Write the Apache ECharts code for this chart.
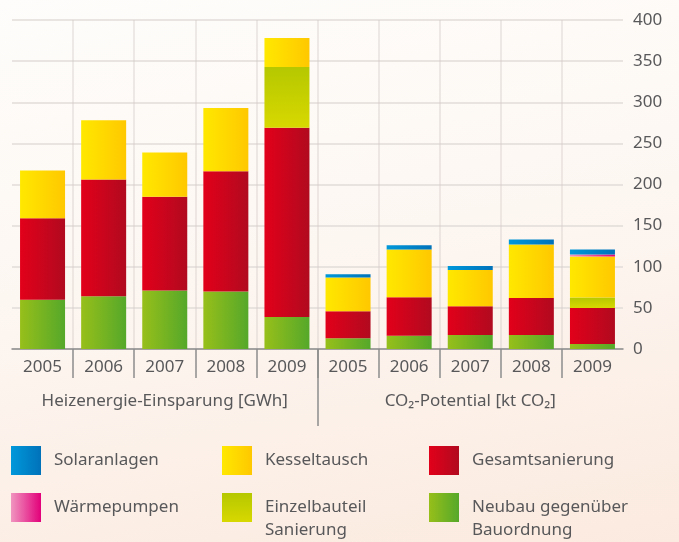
<!DOCTYPE html>
<html><head><meta charset="utf-8">
<script src="https://cdn.jsdelivr.net/npm/echarts@6/dist/echarts.min.js"></script>
<style>
html,body{margin:0;padding:0;}
#c{width:679px;height:542px;background:linear-gradient(170deg,#fefdfb 0%,#fdf7f2 45%,#fbeadf 100%);}
</style></head>
<body><div id="c"></div>
<script>
const categories = ['2005','2006','2007','2008','2009','2005','2006','2007','2008','2009'];
const groups = ['Heizenergie-Einsparung [GWh]', 'CO₂-Potential [kt CO₂]'];
const neubau = [60,64,71,70,39, 13,16,17,17,6];
const gesamt = [99,142,114,146,230, 33,47,35,45,44];
const einzel = [0,0,0,0,74, 0,0,0,0,12.5];
const kessel = [58,72,54,77,35, 41,58,44,65,50];
const waerme = [0,0,0,0,0, 0,0,0,0,2.5];
const solar = [0,0,0,0,0, 4,5,5,6,6];
const yTicks = {min:0, max:400, interval:50};

const FONT = 'Noto Sans';
const TXT = '#58585a';
function hg(a,b){return {type:'linear',x:0,y:0,x2:1,y2:0,colorStops:[{offset:0,color:a},{offset:1,color:b}]};}
function vg(a,b){return {type:'linear',x:0,y:0,x2:0,y2:1,colorStops:[{offset:0,color:a},{offset:1,color:b}]};}

const seriesDefs = [
  {name:'Neubau gegenüber\nBauordnung', data:neubau, color:hg('#97bf1a','#55a82a')},
  {name:'Gesamtsanierung', data:gesamt, color:hg('#e2001a','#b10a1f')},
  {name:'Einzelbauteil\nSanierung', data:einzel, color:vg('#b5c800','#d8d800')},
  {name:'Kesseltausch', data:kessel, color:hg('#ffe800','#ffc800')},
  {name:'Wärmepumpen', data:waerme, color:hg('#f096c0','#e2007a')},
  {name:'Solaranlagen', data:solar, color:hg('#0098da','#0072ba')}
];

const grid = {left:12, right:56};
const chart = echarts.init(document.getElementById('c'), null, {renderer:'canvas'});

function legendAt(name, left, top, two){
  return {
    data:[name], left:left, top: two ? top - 20 : top, orient:'horizontal', selectedMode:false,
    itemWidth:30, itemHeight:29, icon:'rect', itemGap:0, padding:0,
    formatter: two ? (n => '\n' + n) : (n => n),
    textStyle:{fontFamily:FONT, fontSize:17, color:TXT, lineHeight:23, padding:[0,0,0,8]}
  };
}

chart.setOption({
  animation:false,
  backgroundColor:'transparent',
  textStyle:{fontFamily:FONT},
  grid:[
    {left:grid.left, right:grid.right, top:20, height:329},
    {left:grid.left, right:grid.right, top:349, height:29},
    {left:grid.left, right:grid.right, top:349, height:77}
  ],
  xAxis:[
    {gridIndex:0, type:'category', data:categories,
      axisLine:{show:true, lineStyle:{color:'#8c8c8c', width:1.5}},
      axisTick:{show:false},
      axisLabel:{margin:10, fontSize:17, color:TXT, fontFamily:FONT, interval:0},
      splitLine:{show:true, interval:0, showMinLine:false, showMaxLine:false, lineStyle:{color:'rgba(205,198,192,0.45)', width:1.5}}},
    {gridIndex:1, type:'category', data:categories,
      axisLine:{show:false}, axisTick:{show:false}, axisLabel:{show:false, interval:0},
      splitLine:{show:true, interval:0, showMinLine:false, showMaxLine:false, lineStyle:{color:'#8c8c8c', width:1.5}}},
    {gridIndex:2, type:'category', data:groups, position:'bottom', offset:-38,
      axisLine:{show:false}, axisTick:{show:false},
      axisLabel:{margin:5, fontSize:17, color:TXT, fontFamily:FONT, interval:0},
      splitLine:{show:true, interval:0, showMinLine:false, showMaxLine:false, lineStyle:{color:'#8c8c8c', width:1.5}}}
  ],
  yAxis:[
    {gridIndex:0, type:'value', position:'right', min:yTicks.min, max:yTicks.max, interval:yTicks.interval,
      axisLine:{show:false}, axisTick:{show:false},
      axisLabel:{margin:10, fontSize:17, color:TXT, fontFamily:FONT},
      splitLine:{show:true, lineStyle:{color:'#e2ddd8', width:1.5}}},
    {gridIndex:1, type:'value', show:false},
    {gridIndex:2, type:'value', show:false}
  ],
  legend:[
    legendAt('Solaranlagen', 11, 446, false),
    legendAt('Kesseltausch', 222, 446, false),
    legendAt('Gesamtsanierung', 429, 446, false),
    legendAt('Wärmepumpen', 11, 493, false),
    legendAt('Einzelbauteil\nSanierung', 222, 493, true),
    legendAt('Neubau gegenüber\nBauordnung', 429, 493, true)
  ],
  series: seriesDefs.map(s => ({
    name:s.name, type:'bar', stack:'total', xAxisIndex:0, yAxisIndex:0,
    barWidth:45, data:s.data, itemStyle:{color:s.color}
  }))
});
</script></body></html>
